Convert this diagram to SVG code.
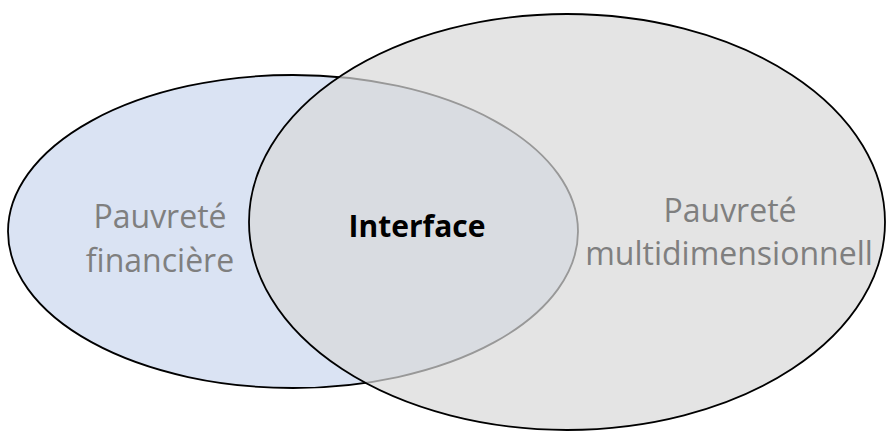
<svg xmlns="http://www.w3.org/2000/svg" width="886" height="432" viewBox="0 0 886 432">
<style>
.lbl{font-family:"Open Sans","Liberation Sans",sans-serif;font-size:32px;fill:#7f7f7f;text-anchor:middle}
.bold{font-family:"Open Sans","Liberation Sans",sans-serif;font-size:30px;font-weight:bold;fill:#000;text-anchor:middle}
.ring{stroke:#000;stroke-width:1.8}
</style>
<rect width="886" height="432" fill="#fff"/>
<g id="financiere">
<ellipse class="ring" cx="293" cy="231.5" rx="285" ry="156.5" fill="#dae3f3"/>
</g>
<g id="multidimensionnelle">
<ellipse class="ring" cx="567" cy="222" rx="318" ry="208" fill="#d9d9d9" fill-opacity="0.7"/>
</g>
<g id="connectors"/>
<g id="labels">
<text class="lbl" x="160" y="228">Pauvreté</text>
<text class="lbl" x="160" y="272">financière</text>
<text class="bold" x="417" y="237">Interface</text>
<text class="lbl" x="730" y="222">Pauvreté</text>
<text class="lbl" x="729" y="265">multidimensionnell</text>
</g>
</svg>
